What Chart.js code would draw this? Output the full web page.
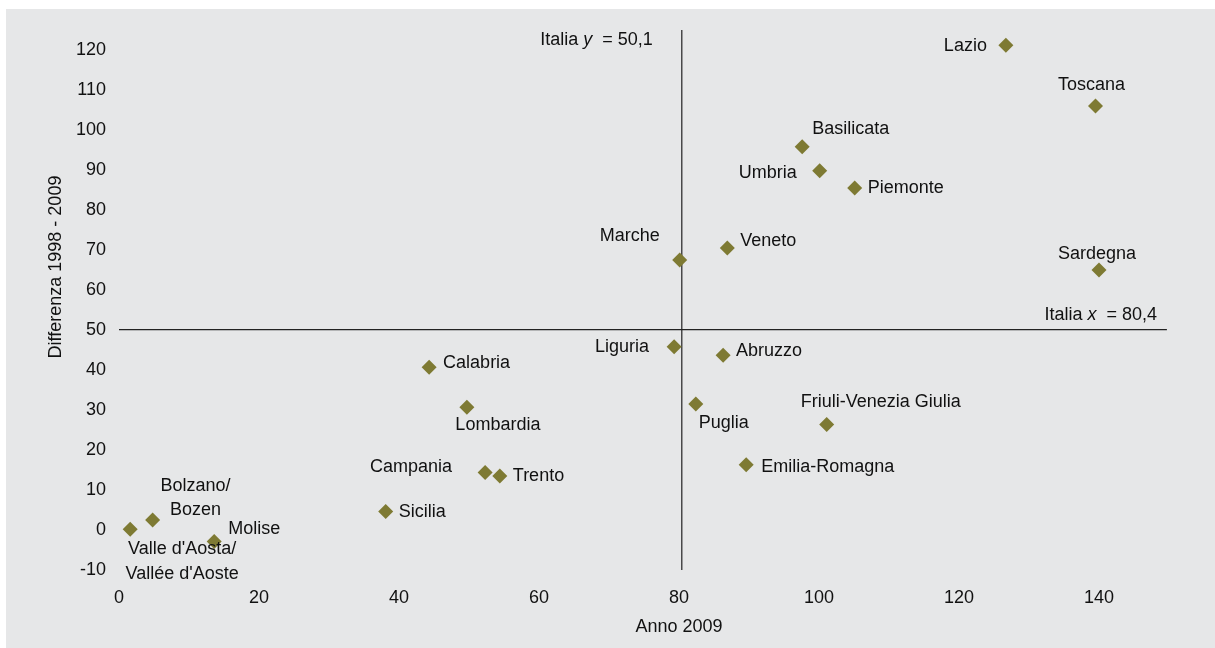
<!DOCTYPE html>
<html>
<head>
<meta charset="utf-8">
<script src="https://cdn.jsdelivr.net/npm/chart.js@4/dist/chart.umd.min.js"></script>
<style>
  html, body { margin: 0; padding: 0; background: #ffffff; }
  #wrap { position: absolute; left: 0; top: 0; width: 1215px; height: 648px; }
</style>
</head>
<body>
<div id="wrap"><canvas id="c" width="1215" height="648"></canvas></div>
<script>
// ---- data ----
const regions = ["Valle d'Aosta/\nVallée d'Aoste", "Bolzano/\nBozen", "Molise", "Sicilia", "Calabria",
  "Lombardia", "Campania", "Trento", "Liguria", "Marche", "Puglia", "Abruzzo", "Veneto",
  "Emilia-Romagna", "Basilicata", "Umbria", "Friuli-Venezia Giulia", "Piemonte", "Lazio",
  "Toscana", "Sardegna"];
const anno2009 = [1.6, 4.8, 13.6, 38.1, 44.3, 49.7, 52.3, 54.4, 79.3, 80.1, 82.4, 86.3, 86.9,
  89.6, 97.6, 100.1, 101.1, 105.1, 126.7, 139.5, 140.0];
const diff19982009 = [0.2, 2.5, -2.9, 4.6, 40.7, 30.7, 14.4, 13.5, 45.8, 67.5, 31.5, 43.7, 70.5,
  16.3, 95.8, 89.8, 26.4, 85.5, 121.2, 106.0, 65.0];
const italiaX = 80.4;
const italiaY = 50.1;
const xTicks = [0, 20, 40, 60, 80, 100, 120, 140];
const yTicks = [-10, 0, 10, 20, 30, 40, 50, 60, 70, 80, 90, 100, 110, 120];

// label placement (offset from the point in px, and text alignment)
const labelPlacement = [
  [52, 20, 'center'], [43, -34, 'center'], [14, -13, 'left'], [13, 0, 'left'], [14, -4, 'left'],
  [31, 18, 'center'], [-33, -5, 'right'], [13, 0, 'left'], [-25, 0, 'right'], [-20, -24, 'right'],
  [28, 19, 'center'], [13, -4, 'left'], [13, -7, 'left'], [15, 2, 'left'], [10, -18, 'left'],
  [-23, 2, 'right'], [54, -22, 'center'], [13, 0, 'left'], [-19, 1, 'right'], [-4, -21, 'center'],
  [-2, -16, 'center']
];

const FONT = "'Liberation Sans', Arial, Helvetica, sans-serif";
const TEXT = '#111111';
const points = anno2009.map((x, i) => ({ x: x, y: diff19982009[i] }));

const bgPlugin = {
  id: 'bg',
  beforeDraw(chart) {
    const ctx = chart.ctx;
    ctx.save();
    ctx.fillStyle = '#ffffff';
    ctx.fillRect(0, 0, chart.width, chart.height);
    ctx.fillStyle = '#e6e7e8';
    ctx.fillRect(6, 9, chart.width - 6, chart.height - 9);
    ctx.restore();
  }
};

const labelPlugin = {
  id: 'labels',
  afterDatasetsDraw(chart) {
    const ctx = chart.ctx;
    const xs = chart.scales.x, ys = chart.scales.y;
    ctx.save();
    ctx.fillStyle = TEXT;
    ctx.font = '18px ' + FONT;
    ctx.textBaseline = 'middle';
    regions.forEach((name, i) => {
      const px = xs.getPixelForValue(anno2009[i]);
      const py = ys.getPixelForValue(diff19982009[i]);
      const [dx, dy, align] = labelPlacement[i];
      ctx.textAlign = align;
      const lines = name.split('\n');
      lines.forEach((ln, k) => {
        ctx.fillText(ln, px + dx, py + dy + k * 24.5);
      });
    });

    // reference line labels
    const drawRich = (parts, rightX, y) => {
      let total = 0;
      parts.forEach(p => { ctx.font = (p[1] ? 'italic ' : '') + '18px ' + FONT; total += ctx.measureText(p[0]).width; });
      let x = rightX - total;
      ctx.textAlign = 'left';
      parts.forEach(p => {
        ctx.font = (p[1] ? 'italic ' : '') + '18px ' + FONT;
        ctx.fillText(p[0], x, y);
        x += ctx.measureText(p[0]).width;
      });
    };
    const vx = xs.getPixelForValue(italiaX);
    drawRich([['Italia ', false], ['y', true], ['  = 50,1', false]], vx - 29, chart.chartArea.top + 10);
    const hy = ys.getPixelForValue(italiaY);
    drawRich([['Italia ', false], ['x', true], ['  = 80,4', false]], chart.chartArea.right - 12, hy - 15);

    // axis titles
    ctx.font = '18px ' + FONT;
    ctx.textAlign = 'center';
    ctx.fillText('Anno 2009', 679, 627);
    ctx.translate(56, 267);
    ctx.rotate(-Math.PI / 2);
    ctx.fillText('Differenza 1998 - 2009', 0, 0);
    ctx.restore();
  }
};

new Chart(document.getElementById('c'), {
  type: 'scatter',
  data: {
    datasets: [
      {
        label: 'Regioni',
        data: points,
        pointStyle: 'rectRot',
        pointRadius: 7.5,
        pointHoverRadius: 7.5,
        backgroundColor: '#7e7a33',
        borderColor: '#7e7a33',
        borderWidth: 0,
        order: 0
      },
      {
        label: 'Italia y',
        type: 'line',
        data: [{ x: italiaX, y: -10 }, { x: italiaX, y: 125 }],
        borderColor: '#222222',
        borderWidth: 1.2,
        pointRadius: 0,
        order: 1
      },
      {
        label: 'Italia x',
        type: 'line',
        data: [{ x: 0, y: italiaY }, { x: 149.7, y: italiaY }],
        borderColor: '#222222',
        borderWidth: 1.2,
        pointRadius: 0,
        order: 1
      }
    ]
  },
  options: {
    responsive: false,
    animation: false,
    events: [],
    layout: { padding: { left: 0, right: 46, top: 30, bottom: 0 } },
    plugins: { legend: { display: false }, tooltip: { enabled: false } },
    scales: {
      x: {
        type: 'linear',
        min: 0, max: 150,
        border: { display: false },
        grid: { display: false, drawTicks: false },
        afterBuildTicks(s) { s.ticks = xTicks.map(v => ({ value: v })); },
        afterFit(s) { s.height = 78; },
        ticks: { padding: 17, color: TEXT, font: { family: FONT, size: 18 } }
      },
      y: {
        type: 'linear',
        min: -10, max: 125,
        border: { display: false },
        grid: { display: false, drawTicks: false },
        afterBuildTicks(s) { s.ticks = yTicks.map(v => ({ value: v })); },
        afterFit(s) { s.width = 119; },
        ticks: { padding: 13, color: TEXT, font: { family: FONT, size: 18 } }
      }
    }
  },
  plugins: [bgPlugin, labelPlugin]
});
</script>
</body>
</html>
